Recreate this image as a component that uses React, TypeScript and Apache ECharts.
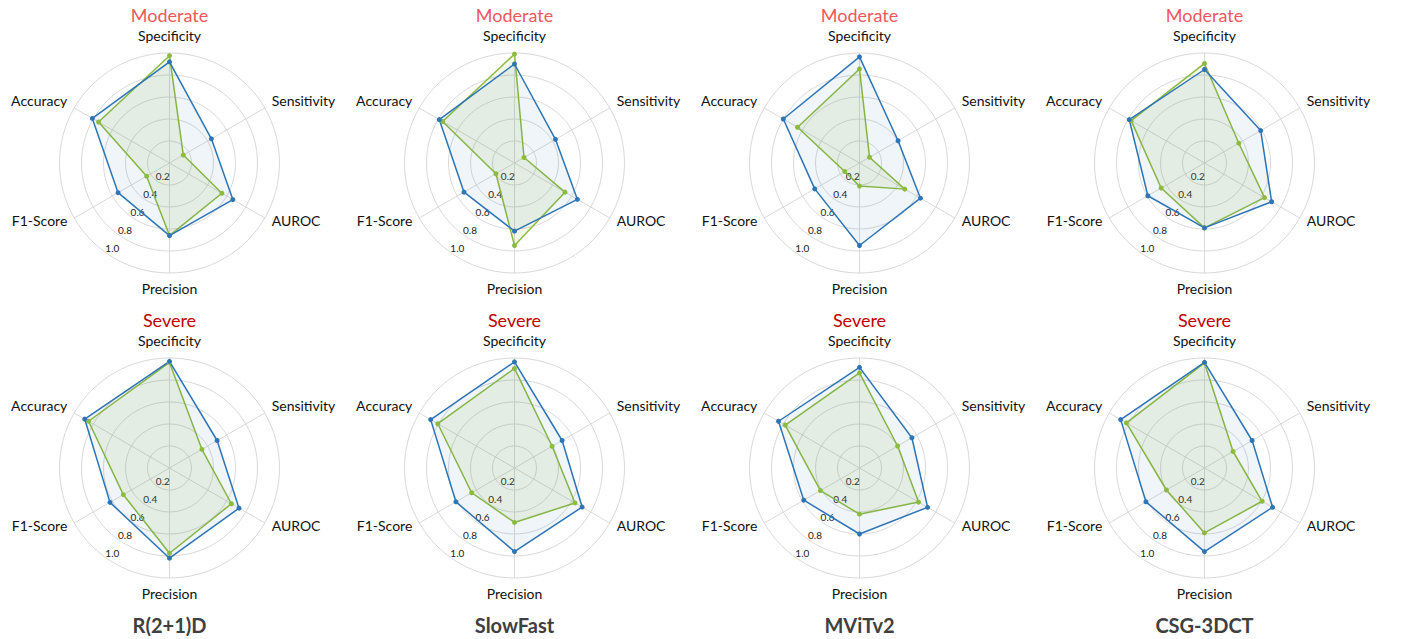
import React, { useEffect, useRef } from "react";
import * as echarts from "echarts";

const indicatorNames = ["Specificity", "Accuracy", "F1-Score", "Precision", "AUROC", "Sensitivity"];
const models = ["R(2+1)D", "SlowFast", "MViTv2", "CSG-3DCT"];
const severities = ["Moderate", "Severe"];
const tickValues = [0.2, 0.4, 0.6, 0.8, 1.0];
const tickLabels = ["0.2", "0.4", "0.6", "0.8", "1.0"];
const seriesNames = ["Series A", "Series B"];

// values in indicator order: Specificity, Accuracy, F1-Score, Precision, AUROC, Sensitivity
const r21dModerateBlue = [0.92, 0.81, 0.54, 0.66, 0.665, 0.44];
const r21dModerateGreen = [0.975, 0.745, 0.24, 0.66, 0.55, 0.145];
const slowfastModerateBlue = [0.9, 0.79, 0.53, 0.62, 0.66, 0.43];
const slowfastModerateGreen = [0.99, 0.755, 0.195, 0.75, 0.53, 0.1];
const mvitModerateBlue = [0.965, 0.8, 0.47, 0.75, 0.64, 0.405];
const mvitModerateGreen = [0.855, 0.65, 0.155, 0.21, 0.475, 0.105];
const csgModerateBlue = [0.85, 0.79, 0.595, 0.59, 0.705, 0.59];
const csgModerateGreen = [0.905, 0.77, 0.455, 0.59, 0.63, 0.36];

const r21dSevereBlue = [0.97, 0.89, 0.625, 0.82, 0.73, 0.5];
const r21dSevereGreen = [0.96, 0.85, 0.485, 0.775, 0.65, 0.34];
const slowfastSevereBlue = [0.965, 0.88, 0.615, 0.76, 0.71, 0.5];
const slowfastSevereGreen = [0.905, 0.805, 0.45, 0.495, 0.635, 0.395];
const mvitSevereBlue = [0.915, 0.85, 0.585, 0.6, 0.715, 0.55];
const mvitSevereGreen = [0.865, 0.78, 0.41, 0.42, 0.62, 0.4];
const csgSevereBlue = [0.96, 0.88, 0.615, 0.76, 0.715, 0.5];
const csgSevereGreen = [0.955, 0.82, 0.4, 0.59, 0.605, 0.3];

const panels = [
  [r21dModerateBlue, r21dModerateGreen],
  [slowfastModerateBlue, slowfastModerateGreen],
  [mvitModerateBlue, mvitModerateGreen],
  [csgModerateBlue, csgModerateGreen],
  [r21dSevereBlue, r21dSevereGreen],
  [slowfastSevereBlue, slowfastSevereGreen],
  [mvitSevereBlue, mvitSevereGreen],
  [csgSevereBlue, csgSevereGreen],
];

const FONT = "Lato, 'Open Sans', sans-serif";
const BLUE = "#2e75b6";
const GREEN = "#8dbb3e";
const upperSideNames = ["Accuracy", "Sensitivity"];

export default function App() {
  const ref = useRef<HTMLDivElement>(null);
  useEffect(() => {
    if (!ref.current) return;
    const chart = echarts.init(ref.current, null, { renderer: "svg" });
    const colX = [169.5, 514.5, 859.5, 1204.5];
    const rowY = [163, 468];
    const R = 110;
    const radar: any[] = [];
    const polar: any[] = [];
    const angleAxis: any[] = [];
    const radiusAxis: any[] = [];
    const series: any[] = [];
    const graphic: any[] = [];
    const nameText = { color: "#111", fontSize: 14, fontFamily: FONT };
    panels.forEach((vals, i) => {
      const col = i % 4;
      const row = Math.floor(i / 4);
      const center = [colX[col], rowY[row]];
      radar.push({
        center,
        radius: R,
        startAngle: 90,
        shape: "circle",
        splitNumber: 5,
        nameGap: 8,
        indicator: indicatorNames.map((n) => ({ name: n, min: 0, max: 1 })),
        axisName: {
          ...nameText,
          padding: [0, 0, 3, 0],
          formatter: (n: string) => (upperSideNames.includes(n) ? `{u|${n}}` : `{n|${n}}`),
          rich: {
            u: { ...nameText, padding: [0, 0, 5, 0] },
            n: { ...nameText },
          },
        },
        axisLine: { lineStyle: { color: "#d9d9d9", width: 1 } },
        splitLine: { lineStyle: { color: "#d9d9d9", width: 1 } },
        splitArea: { show: false },
        axisTick: { show: false },
        axisLabel: { show: false },
      });
      polar.push({ center: [center[0] + 4.3, center[1] - 6.1], radius: R });
      angleAxis.push({
        polarIndex: i,
        startAngle: 235,
        show: false,
        type: "value",
        min: 0,
        max: 360,
      });
      radiusAxis.push({
        polarIndex: i,
        type: "value",
        min: 0,
        max: 1,
        interval: 0.2,
        axisLine: { show: false },
        axisTick: { show: false },
        splitLine: { show: false },
        axisLabel: {
          show: true,
          showMinLabel: false,
          color: "#222",
          fontSize: 10,
          fontFamily: FONT,
          margin: 2,
          align: "center",
          verticalAlign: "middle",
          formatter: (v: number) => {
            const k = tickValues.findIndex((t) => Math.abs(t - v) < 1e-6);
            return k >= 0 ? tickLabels[k] : "";
          },
        },
      });
      series.push({
        type: "radar",
        radarIndex: i,
        symbol: "circle",
        symbolSize: 5,
        data: [
          {
            name: seriesNames[1],
            value: vals[1],
            lineStyle: { color: GREEN, width: 1.5 },
            itemStyle: { color: GREEN },
            areaStyle: { color: "rgba(141,187,62,0.17)" },
          },
          {
            name: seriesNames[0],
            value: vals[0],
            lineStyle: { color: BLUE, width: 1.5 },
            itemStyle: { color: BLUE },
            areaStyle: { color: "rgba(46,117,182,0.1)" },
          },
        ],
      });
    });
    severities.forEach((s, r) => {
      colX.forEach((x) => {
        graphic.push({
          type: "text",
          x,
          y: r === 0 ? 15 : 320,
          style: {
            text: s,
            fill: r === 0 ? "#f0585e" : "#c00000",
            fontSize: 18,
            fontFamily: FONT,
            align: "center",
            verticalAlign: "middle",
          },
        });
      });
    });
    models.forEach((m, c) => {
      graphic.push({
        type: "text",
        x: colX[c],
        y: 625,
        style: {
          text: m,
          fill: "#404040",
          fontSize: 20,
          fontWeight: "bold",
          fontFamily: FONT,
          align: "center",
          verticalAlign: "middle",
        },
      });
    });
    chart.setOption({
      animation: false,
      backgroundColor: "#fff",
      radar,
      polar,
      angleAxis,
      radiusAxis,
      series,
      graphic,
    });
    return () => chart.dispose();
  }, []);
  return (
    <div
      ref={ref}
      style={{ position: "fixed", left: 0, top: 0, width: 1407, height: 639 }}
    />
  );
}
